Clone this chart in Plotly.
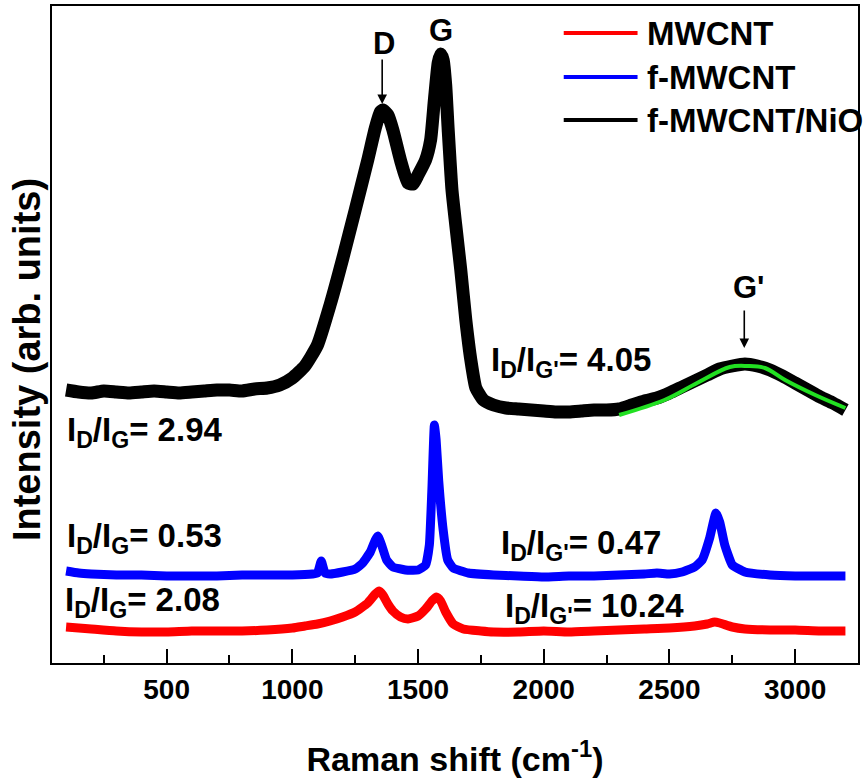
import plotly.graph_objects as go

# ---------------- data (arbitrary intensity units) ----------------
x_nio = [100, 150, 200, 250, 300, 350, 400, 450, 500, 550, 600, 650, 700, 750, 800, 850, 900, 950,
         1000, 1050, 1100, 1150, 1200, 1250, 1300, 1330, 1350, 1360, 1380, 1400, 1430, 1460, 1480,
         1500, 1530, 1550, 1565, 1580, 1590, 1600, 1610, 1620, 1635, 1650, 1670, 1690, 1710, 1730,
         1760, 1800, 1850, 1900, 1950, 2000, 2050, 2100, 2150, 2200, 2250, 2300, 2350, 2400, 2450,
         2500, 2550, 2600, 2650, 2700, 2750, 2800, 2850, 2900, 2950, 3000, 3050, 3100, 3150, 3200]
y_nio = [273, 271, 270, 272, 271, 270, 271, 272, 271, 270, 271, 272, 273, 273, 272, 274, 275, 278,
         285, 297, 318, 358, 404, 453, 503, 535, 551, 553, 548, 533, 503, 480, 479,
         488, 503, 523, 563, 600, 609, 603, 578, 533, 473, 438, 393, 343, 303, 275,
         263, 258, 255, 254, 253, 252, 251, 251, 252, 253, 253, 254, 258, 262, 265,
         270, 276, 282, 288, 294, 297, 299, 297, 293, 287, 280, 273, 266, 260, 253]

x_f = [100, 150, 200, 300, 400, 500, 600, 700, 800, 900, 1000, 1080, 1100, 1115, 1130, 1150, 1200,
       1250, 1280, 1310, 1330, 1340, 1355, 1375, 1400, 1450, 1500, 1530, 1545, 1555, 1565, 1572,
       1582, 1600, 1618, 1640, 1700, 1800, 1900, 2000, 2100, 2200, 2300, 2400, 2450, 2500, 2550,
       2600, 2630, 2660, 2685, 2700, 2720, 2750, 2800, 2900, 3000, 3100, 3200]
y_f = [92, 90, 89, 88, 88, 87, 87, 87, 88, 88, 88, 89, 90, 102, 90, 89, 91,
       94, 100, 111, 123, 127, 118, 103, 96, 93, 93, 98, 118, 173, 238, 223,
       183, 133, 103, 95, 90, 88, 87, 86, 87, 87, 88, 89, 90, 89, 91,
       96, 103, 125, 150, 141, 118, 98, 91, 88, 87, 87, 87]

x_mw = [100, 150, 200, 300, 400, 500, 600, 700, 800, 900, 1000, 1050, 1100, 1150, 1200, 1250,
        1300, 1330, 1345, 1360, 1380, 1400, 1430, 1460, 1500, 1530, 1555, 1573, 1590, 1610, 1640,
        1680, 1750, 1800, 1900, 2000, 2100, 2200, 2300, 2400, 2500, 2600, 2650, 2680, 2700, 2750,
        2800, 2900, 3000, 3100, 3200]
y_mw = [36, 35, 34, 32, 31, 31, 32, 32, 32, 33, 35, 37, 39, 42, 46, 51,
        60, 69, 72, 68, 59, 52, 46, 44, 47, 54, 62, 66, 62, 51, 39,
        34, 32, 31, 31, 32, 31, 32, 33, 34, 35, 37, 39, 41, 40, 36,
        34, 33, 33, 32, 32]

x_fit = [2300, 2480, 2610, 2740, 2810, 2880, 2960, 3080, 3200]
y_fit = [248, 263, 280, 296, 297, 295, 283, 268, 255]

series_names = ["MWCNT", "f-MWCNT", "f-MWCNT/NiO"]
series_colors = ["#ff0000", "#0000ff", "#000000"]
ratio_texts = ["I<sub>D</sub>/I<sub>G</sub>= 2.94", "I<sub>D</sub>/I<sub>G</sub>= 0.53",
               "I<sub>D</sub>/I<sub>G</sub>= 2.08", "I<sub>D</sub>/I<sub>G'</sub>= 4.05",
               "I<sub>D</sub>/I<sub>G'</sub>= 0.47", "I<sub>D</sub>/I<sub>G'</sub>= 10.24"]
x_ticks = [500, 1000, 1500, 2000, 2500, 3000]

# ---------------- layout helpers (pixel positions -> axis coords) ----------------
XR = [44, 3250]
YR = [0, 657]
L, T, R, B = 52, 6, 860, 663
def px2x(px):
    return XR[0] + (px - L) * (XR[1] - XR[0]) / (R - L)
def py2y(py):
    return YR[0] + (B - py) * (YR[1] - YR[0]) / (B - T)

FONT = "Arial, 'Liberation Sans', sans-serif"

fig = go.Figure()
fig.add_trace(go.Scatter(x=x_mw, y=y_mw, mode="lines",
                         line=dict(color=series_colors[0], width=9, shape="spline", smoothing=0.5),
                         name=series_names[0], showlegend=False))
fig.add_trace(go.Scatter(x=x_f, y=y_f, mode="lines",
                         line=dict(color=series_colors[1], width=9, shape="spline", smoothing=0.4),
                         name=series_names[1], showlegend=False))
fig.add_trace(go.Scatter(x=x_nio, y=y_nio, mode="lines",
                         line=dict(color=series_colors[2], width=13, shape="spline", smoothing=0.5),
                         name=series_names[2], showlegend=False))
fig.add_trace(go.Scatter(x=x_fit, y=y_fit, mode="lines", line=dict(color="#22e022", width=4, shape="spline"),
                         showlegend=False))

annotations = []
shapes = []

# manual legend
leg_rows = [33, 77, 120]
for name, col, py in zip(series_names, series_colors, leg_rows):
    shapes.append(dict(type="line", xref="x", yref="y", x0=px2x(565), x1=px2x(639),
                       y0=py2y(py), y1=py2y(py), line=dict(color=col, width=4)))
    annotations.append(dict(x=px2x(646), y=py2y(py), xref="x", yref="y", text=name, showarrow=False,
                            xanchor="left", yanchor="middle",
                            font=dict(family=FONT, size=33, color="black", weight="bold")))

# ratio labels
ratio_pos = [(65, 432), (65, 538), (63, 602), (490, 362), (500, 545), (504, 608)]
for txt, (px, py) in zip(ratio_texts, ratio_pos):
    annotations.append(dict(x=px2x(px), y=py2y(py), xref="x", yref="y", text=txt, showarrow=False,
                            xanchor="left", yanchor="middle",
                            font=dict(family=FONT, size=33, color="black", weight="bold")))

# peak labels
for txt, px, py in [("D", 385, 43), ("G", 442, 30), ("G'", 750, 287)]:
    annotations.append(dict(x=px2x(px), y=py2y(py), xref="x", yref="y", text=txt, showarrow=False,
                            xanchor="center", yanchor="middle",
                            font=dict(family=FONT, size=31, color="black", weight="bold")))
# arrows
for px, py_tip, length in [(383, 104, 46), (746, 348, 39)]:
    annotations.append(dict(x=px2x(px), y=py2y(py_tip), xref="x", yref="y", text="", showarrow=True,
                            ax=0, ay=-length, arrowhead=2, arrowsize=1.2, arrowwidth=1.6,
                            arrowcolor="black"))

# y title (rotated)
annotations.append(dict(x=(27 - L) / (R - L), y=(B - 360) / (B - T), xref="paper", yref="paper",
                        text="Intensity (arb. units)",
                        showarrow=False, textangle=-90, xanchor="center", yanchor="middle",
                        font=dict(family=FONT, size=38, color="black", weight="bold")))

fig.update_layout(
    width=864, height=778,
    margin=dict(l=L, r=864 - R, t=T, b=778 - B),
    paper_bgcolor="white", plot_bgcolor="white",
    showlegend=False,
    annotations=annotations,
    shapes=shapes,
    xaxis=dict(range=XR, tickvals=x_ticks, ticks="inside", ticklen=14, tickwidth=2, tickcolor="black",
               showgrid=False, zeroline=False, showline=True, linewidth=2, linecolor="black", mirror=True,
               tickfont=dict(family=FONT, size=28, color="black", weight="bold"),
               ticklabelstandoff=0,
               minor=dict(tickvals=[250, 750, 1250, 1750, 2250, 2750, 3250], ticks="inside", ticklen=8,
                          tickwidth=2, tickcolor="black", showgrid=False),
               title=dict(text="Raman shift (cm<sup>-1</sup>)", standoff=45,
                          font=dict(family=FONT, size=34, color="black", weight="bold"))),
    yaxis=dict(range=YR, showticklabels=False, ticks="", showgrid=False, zeroline=False,
               showline=True, linewidth=2, linecolor="black", mirror=True),
)

fig.write_html("out.html", config={"displayModeBar": False},
               post_script="document.body.style.margin='0';document.body.style.padding='0';"
                           "document.body.style.overflow='hidden';")
